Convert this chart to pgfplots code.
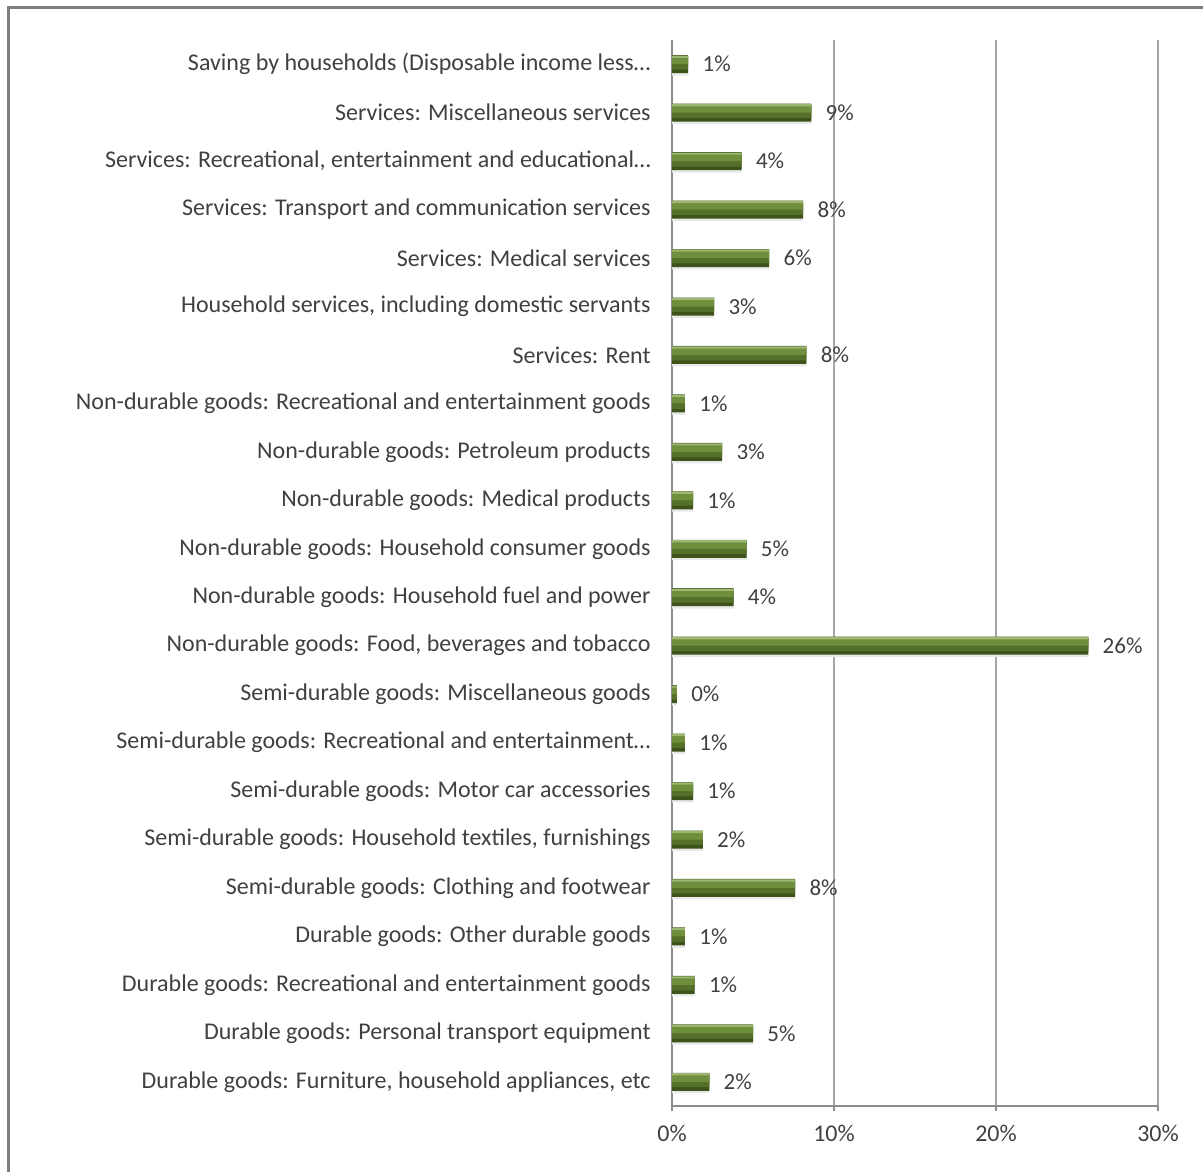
\documentclass[border=0pt]{standalone}
\usepackage{pgfplots}
\pgfplotsset{compat=1.18}
\usepackage{fontspec}
\setmainfont{Carlito}
\definecolor{txt}{HTML}{404040}
\definecolor{gridc}{HTML}{A6A6A6}
\definecolor{axc}{HTML}{8C8C8C}
\definecolor{barhi}{HTML}{9DB672}
\definecolor{barmid}{HTML}{6F8F3C}
\definecolor{barlow}{HTML}{55702A}
\definecolor{barbot}{HTML}{3E531A}
\pgfplotstableread{
x y
2.3 0
5.0 1
1.4 2
0.8 3
7.6 4
1.9 5
1.3 6
0.8 7
0.3 8
25.7 9
3.8 10
4.6 11
1.3 12
3.1 13
0.8 14
8.3 15
2.6 16
6.0 17
8.1 18
4.3 19
8.6 20
1.0 21
}\datatable
\begin{document}
\begin{tikzpicture}
\path[use as bounding box] (0pt,0pt) rectangle (601.5pt,-585.5pt);
\draw[color=axc!90!black, line width=1.5pt] (4pt,-600pt) -- (4pt,-4pt) -- (620pt,-4pt);
\begin{axis}[
  at={(336pt,-553pt)}, anchor=south west,
  scale only axis, width=243pt, height=533pt,
  xmin=0, xmax=30, ymin=-0.5, ymax=21.5,
  axis x line*=bottom, axis y line*=left,
  axis line style={color=axc, line width=0.6pt},
  xtick={0,10,20,30},
  xticklabels={0\%,10\%,20\%,30\%},
  xmajorgrids, grid style={color=gridc, line width=0.6pt},
  tick align=outside,
  x tick style={color=axc, line width=0.6pt},
  major tick length=2.5pt,
  ytick={0,...,21},
  y tick style={draw=none},
  extra y ticks={-0.5,0.5,...,21.5},
  extra y tick labels={},
  extra y tick style={tick style={draw=axc, line width=0.6pt}, grid=none},
  yticklabels={
    {Durable goods: Furniture, household appliances, etc},
    {Durable goods: Personal transport equipment},
    {Durable goods: Recreational and entertainment goods},
    {Durable goods: Other durable goods},
    {Semi-durable goods: Clothing and footwear},
    {Semi-durable goods: Household textiles, furnishings},
    {Semi-durable goods: Motor car accessories},
    {Semi-durable goods: Recreational and entertainment…},
    {Semi-durable goods: Miscellaneous goods},
    {Non-durable goods: Food, beverages and tobacco},
    {Non-durable goods: Household fuel and power},
    {Non-durable goods: Household consumer goods},
    {Non-durable goods: Medical products},
    {Non-durable goods: Petroleum products},
    {Non-durable goods: Recreational and entertainment goods},
    {Services: Rent},
    {Household services, including domestic servants},
    {Services: Medical services},
    {Services: Transport and communication services},
    {Services: Recreational, entertainment and educational…},
    {Services: Miscellaneous services},
    {Saving by households (Disposable income less…}
  },
  y tick label style={font=\fontsize{12}{14}\selectfont, color=txt, anchor=east, inner sep=0pt, xshift=-8pt},
  x tick label style={font=\fontsize{12}{14}\selectfont, color=txt, inner sep=0pt, yshift=-7pt},
  /pgf/number format/assume math mode=true,
  clip=false,
]
% shadow
\addplot[xbar, bar width=9pt, bar shift=-1.2pt, draw=none, fill=black!9] table[x=x,y=y] {\datatable};
% base (dark)
\addplot[xbar, bar width=9pt, bar shift=0pt, draw=none, fill=barbot,
  nodes near coords={\pgfmathprintnumber[fixed,precision=0]{\pgfplotspointmeta}\%},
  nodes near coords style={font=\fontsize{11.5}{14}\selectfont, color=txt, anchor=west, inner sep=0pt, xshift=7pt},
  point meta=x] table[x=x,y=y] {\datatable};
% lower body
\addplot[xbar, bar width=6.6pt, bar shift=0.6pt, draw=none, fill=barlow] table[x=x,y=y] {\datatable};
% upper body
\addplot[xbar, bar width=4pt, bar shift=2.0pt, draw=none, fill=barmid] table[x=x,y=y] {\datatable};
% highlight
\addplot[xbar, bar width=1.1pt, bar shift=3.75pt, draw=none, fill=barhi] table[x=x,y=y] {\datatable};
\end{axis}
\end{tikzpicture}
\end{document}
